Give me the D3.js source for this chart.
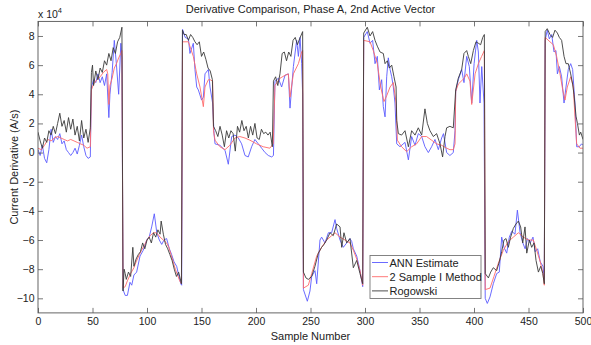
<!DOCTYPE html>
<html><head><meta charset="utf-8">
<script src="https://cdn.jsdelivr.net/npm/d3@7/dist/d3.min.js"></script>
<style>body{margin:0;background:#fff}svg{display:block}text{font-family:"Liberation Sans",Arial,sans-serif;fill:#222}</style>
</head><body><svg id="c" width="591" height="345"></svg>
<script>
// values in units of 10^4 A/s, x = sample number
const title = "Derivative Comparison, Phase A, 2nd Active Vector";
const xLabel = "Sample Number";
const yLabel = "Current Derivative (A/s)";
const xTicks = [0,50,100,150,200,250,300,350,400,450,500];
const yTicks = [-10,-8,-6,-4,-2,0,2,4,6,8];
const seriesNames = ["ANN Estimate","2 Sample I Method","Rogowski"];

const annEstimate = [
[0,0.2],[2,-0.2],[4,0.5],[6,-0.4],[8,-0.7],[10,0.2],[12,1.6],[14,0.7],[16,1.1],[18,0.9],[20,1.3],[22,0.6],[24,0.8],[26,0.2],[28,0.0],[30,-0.2],[32,0.0],[34,0.3],[36,-0.1],[38,0.5],[40,1.2],[42,0.4],[44,-0.2],[46,-0.4],[48,-0.3],
[49,4.5],[51,5.0],[53,4.8],[55,5.4],[57,4.8],[59,5.2],[61,4.6],[63,5.4],[65,2.4],[66,4.0],[68,5.5],[70,7.7],[72,6.0],[74,4.0],[76,7.5],[77,6.5],
[78,-9.4],[80,-9.8],[82,-9.8],[84.4,-8.9],[86,-9.1],[88,-8.4],[90.5,-8.2],[93.6,-7.1],[96.6,-6.7],[99.7,-6.0],[102,-5.8],[104.3,-5.1],[106.7,-4.2],[109,-5.5],[111.3,-6.0],[113.5,-6.3],[115.6,-6.0],[118,-5.9],[120.5,-6.6],[122.6,-7.0],[124.8,-7.5],[127.2,-7.8],[129.4,-8.5],[131,-9.0],[131.8,-9.1],
[132.6,8.45],[135,7.9],[138,7.8],[139.4,6.8],[142.5,7.5],[144,5.7],[145.6,4.5],[147.1,4.3],[150.1,3.6],[151.7,3.8],[153.2,5.4],[156.3,5.7],[157.8,4.5],[160.2,3.4],[161.5,1.3],
[162.4,0.6],[166.9,0.5],[171.6,0.15],[174.6,-0.8],[177.7,1.1],[180.7,1.2],[183.8,1.0],[186.8,0.6],[189.9,-0.2],[192.9,-0.3],[196,0.4],[199,0.9],[202.1,0.6],[205.2,0.3],[208.3,0.0],[211.3,-0.2],[214.4,-0.3],[216,-0.2],
[217.4,4.9],[220.5,5.1],[223.5,4.5],[226.6,5.3],[229.7,5.4],[231.2,3.05],[234.3,5.9],[237.3,7.7],[238.9,6.6],[240.4,7.9],[241.9,6.1],[242.8,4.0],
[243.5,-9.4],[247.1,-10.2],[249.5,-9.5],[251.1,-8.5],[254.1,-8.1],[255.7,-9.0],[258.7,-6.0],[260.2,-5.8],[263.3,-6.2],[266.4,-5.5],[269.4,-5.5],[272.5,-4.6],[274,-5.2],[277.1,-6.0],[280.1,-6.5],[283.2,-6.2],[286.2,-5.9],[287.8,-6.1],[289.3,-6.6],[292.4,-7.1],[295.4,-8.1],[297.9,-9.2],
[298.8,7.9],[302.1,8.3],[304.6,7.5],[307,7.7],[309.2,6.1],[311.3,6.6],[313.2,4.3],[315.3,5.0],[316.8,3.15],[318.4,2.45],[319.9,5.2],[321.4,6.5],[323,5.7],[324.5,5.2],[326,4.5],[327.5,3.4],[329.1,0.6],
[332.1,0.4],[336.7,0.7],[339.8,-0.5],[342.8,1.1],[345.9,0.5],[348.9,1.3],[352,1.1],[355,0.4],[358.1,0.0],[361.1,0.4],[364.2,0.9],[367.3,0.2],[370.3,1.0],[372,1.3],[374.9,0.0],[377.9,-0.2],[381,0.0],[382.6,1.5],
[383.2,4.2],[385.6,5.0],[388.7,5.7],[390.8,4.8],[393.3,6.6],[395.7,5.9],[397.9,3.4],[400.1,6.1],[402.5,7.7],[404,6.9],[405.5,3.4],[407.1,5.9],[409.2,3.4],
[410.3,-10.0],[412.2,-10.35],[414.7,-9.9],[417.7,-9.0],[420.8,-8.3],[423.2,-8.2],[425.4,-5.8],[427.5,-6.5],[430,-6.9],[432.4,-5.8],[434.6,-5.4],[437.6,-5.6],[439.8,-3.95],[442.3,-5.5],[444.8,-6.2],[446.9,-6.6],[449.1,-5.9],[451.6,-6.2],[454.1,-5.8],[456.2,-6.8],[458.4,-6.6],[460.8,-7.5],[463.3,-7.8],[464.5,-8.7],
[465.3,7.7],[467.2,8.4],[469.1,7.8],[471.3,8.1],[473.4,6.9],[475.2,7.0],[476.5,5.4],[478.3,5.9],[480.4,5.2],[482.6,3.4],[484.4,4.5],[486.5,5.7],[488.7,6.1],[490.5,5.7],[492.6,3.4],[494.2,0.4],[496.6,0.4],[498.7,0.6],[500,0.5]
];

const twoSampleI = [
[0,0.3],[3,0.2],[6,0.5],[9,0.9],[12,0.8],[15,1.0],[18,1.1],[21,1.0],[24,0.9],[27,0.8],[30,0.9],[33,0.8],[36,0.7],[39,0.6],[42,0.5],[45,0.3],[48,0.4],
[49,4.3],[51,4.7],[54,5.0],[57,5.2],[60,5.5],[63,5.7],[64,5.4],[65,3.3],[66,4.6],[68,5.1],[70,5.8],[72,6.1],[74,6.5],[76,6.8],[77,7.0],
[78,-9.3],[80,-9.2],[82,-8.8],[85,-8.3],[88,-7.9],[90,-7.5],[93,-7.0],[95,-6.7],[98,-6.3],[100,-6.0],[103,-5.7],[106,-5.5],[108,-5.5],[110,-5.6],[112,-5.8],[115,-6.0],[118,-6.2],[120,-6.5],[122,-7.0],[124,-7.5],[126,-8.0],[128,-8.4],[130,-8.8],[131.6,-9.0],
[132.6,7.6],[138,7.6],[142.5,6.6],[145.6,5.4],[148.6,4.5],[151.7,3.15],[153.2,4.5],[156.3,5.0],[158,5.0],[160.2,4.9],[161,1.5],[162.4,0.85],[166.9,0.4],[171.6,0.2],[176,0.5],[180.7,1.0],[185.2,1.1],[189.9,1.0],[194.4,0.85],[200.5,0.6],[206.6,0.4],[212.7,0.3],[215.8,0.6],
[217.4,4.6],[222,5.1],[226.6,5.3],[229.7,5.4],[231.2,3.8],[234.3,5.4],[238.9,6.1],[241.9,6.9],[242.8,7.0],
[243.5,-9.3],[248,-9.1],[251.1,-8.3],[255.7,-7.1],[260.2,-6.5],[264.8,-6.0],[269.4,-5.7],[272.5,-5.5],[277.1,-5.8],[281.7,-6.0],[286.2,-6.2],[289.3,-6.7],[292.4,-7.3],[295.4,-8.1],[297.9,-9.1],
[298.8,7.7],[304.6,7.6],[307.6,7.0],[311.3,6.1],[314.4,4.5],[317.4,3.5],[319.9,3.9],[323,4.5],[326,4.8],[328.5,3.4],[329.7,0.85],[333.6,0.4],[338.2,0.06],[342.8,0.4],[347.4,0.6],[352,1.1],[356.5,1.1],[361.1,0.85],[365.7,0.6],[370.3,0.5],[374.9,0.3],[377.9,0.2],[381,0.2],[382.6,0.6],
[383.2,4.2],[385.6,4.7],[391,5.1],[393.3,5.4],[396.3,4.9],[397.9,3.3],[401,5.4],[404,6.1],[407,6.6],[409.5,7.0],
[410.3,-9.4],[414.7,-9.3],[418.3,-8.5],[422.3,-7.6],[426.9,-6.7],[431.5,-6.1],[436.1,-5.8],[440.7,-5.5],[445.3,-5.8],[449.9,-6.0],[454.4,-6.0],[457.5,-6.7],[460.8,-7.5],[463.3,-8.3],[464.5,-9.1],
[465.3,7.9],[469.7,7.6],[472.8,7.4],[475.8,6.6],[478.9,5.4],[481.4,4.3],[483.5,3.6],[485.6,4.5],[488.7,5.2],[491.1,4.5],[492.6,2.5],[494.2,0.6],[497.2,0.3],[500,0.3]
];

const rogowski = [
[0,1.4],[2,0.8],[4,0.3],[6,1.0],[8,0.7],[10,1.5],[12,1.2],[14,1.8],[16,1.3],[18,2.0],[20,2.7],[22,1.8],[24,2.2],[26,1.4],[28,2.4],[30,1.6],[32,2.3],[34,1.2],[36,1.8],[38,0.8],[40,2.2],[42,1.0],[44,1.6],[46,0.7],[48,1.7],
[49,5.5],[50,6.0],[51,4.6],[53,5.6],[55,5.0],[57,5.8],[59,5.5],[61,6.3],[63,6.0],[65,6.8],[67,6.3],[69,7.2],[71,6.8],[73,7.6],[75,7.9],[77,8.6],
[78,-9.5],[79,-8.0],[80,-8.3],[81,-8.7],[83,-8.2],[85,-8.5],[87,-6.5],[88,-7.8],[90,-7.3],[92,-7.0],[94,-6.8],[96,-6.2],[98,-6.6],[100,-6.0],[102,-5.8],[104,-6.2],[106,-5.5],[108,-5.8],[110,-5.3],[112,-5.6],[113,-4.7],[115,-5.6],[117,-6.3],[119,-6.6],[121,-7.0],[123,-7.4],[125,-8.0],[127,-8.5],[129,-8.2],[131.6,-9.0],
[132.5,8.4],[134,8.1],[136,8.1],[138,7.7],[140,8.1],[142,7.9],[144,7.6],[146,7.4],[148,7.6],[150,6.6],[152,6.9],[154,6.4],[156,5.8],[158,5.6],[160,5.0],[161,1.8],[163,1.5],[165,1.1],[167,1.8],[169,1.2],[171,0.4],[173,1.5],[175,1.0],[177,1.5],[179,1.3],[181,0.1],[183,1.8],[185,1.4],[187,2.2],[189,1.5],[191,1.8],[193,1.0],[195,1.8],[197,1.2],[199,2.0],[201,1.0],[203,0.9],[205,1.6],[207,1.3],[209,1.4],[211,1.2],[213,1.4],[215,0.4],
[216,4.9],[218,5.2],[220,4.6],[222,5.4],[224,6.8],[226,6.9],[228,6.3],[230,6.9],[232,6.6],[234,7.7],[236,7.9],[238,7.4],[240,7.8],[242.8,8.3],
[243.5,-8.2],[245.8,-8.6],[248,-8.7],[251.1,-8.5],[254.1,-7.8],[257.2,-6.9],[260.2,-6.5],[262.4,-6.3],[264.8,-6.0],[267.9,-5.5],[270.9,-5.7],[274,-4.9],[277.1,-5.1],[278.6,-6.5],[280.7,-5.5],[283.2,-6.2],[286.2,-5.9],[289.3,-7.9],[292.4,-7.4],[295.4,-8.3],[297.9,-9.0],
[298.8,8.2],[302.1,8.6],[304.6,8.0],[307,8.3],[309.2,7.7],[311.3,7.3],[313.8,6.9],[316.8,6.8],[318.4,6.1],[320.5,6.3],[322.3,5.8],[324.5,6.0],[326.6,5.2],[328.5,4.5],[329.1,2.2],[330.6,1.3],[333.6,1.2],[336.7,1.5],[339.8,0.4],[342.8,1.5],[345.9,1.2],[348.9,1.7],[352,1.2],[355,3.0],[357.2,2.0],[359.6,1.5],[362.7,1.1],[365.7,1.3],[368.8,0.6],[371.2,-0.3],[373.4,1.1],[374.9,1.7],[377.9,1.8],[381,1.7],
[383.2,4.3],[385.6,5.1],[388.7,5.7],[390.8,6.8],[393.3,7.0],[394.8,6.6],[397,6.1],[399.4,7.0],[401.8,7.6],[404,7.5],[406.1,7.4],[408,7.9],[409.5,8.1],
[410.3,-8.3],[413.2,-8.6],[415.3,-8.2],[417.7,-7.9],[420.8,-8.1],[423.2,-7.5],[425.4,-6.8],[427.5,-6.0],[429.4,-5.9],[431.5,-6.5],[433.6,-5.8],[436.1,-5.2],[438.5,-4.9],[440.7,-4.7],[442.8,-5.1],[444.7,-6.2],[446.8,-5.1],[448.4,-6.9],[450.8,-6.0],[452.9,-6.5],[455.1,-6.2],[456.9,-7.4],[459.1,-8.2],[461.2,-7.8],[463.1,-8.3],[464.5,-9.0],
[465.3,8.3],[467.2,8.5],[469.7,8.1],[472.1,7.9],[474.3,8.4],[476.5,8.2],[478.3,7.9],[480.4,7.7],[482.6,6.6],[484.4,6.1],[486.5,6.1],[488.7,5.4],[490.5,4.7],[491.7,4.0],[493.6,2.5],[494.9,2.0],[496.7,1.2],[497.9,1.4],[500,0.9]
];

const svg = d3.select("#c");
const L = 38, R = 583, T = 21.4, B = 312.9;
const x = d3.scaleLinear().domain([0,500]).range([L,R]);
const y = d3.scaleLinear().domain([-11,9]).range([B,T]);

svg.append("rect").attr("x",L).attr("y",T).attr("width",R-L).attr("height",B-T).attr("fill","#fff");

svg.append("clipPath").attr("id","clp").append("rect")
  .attr("x",L).attr("y",T).attr("width",R-L).attr("height",B-T);

const line = d3.line().x(d=>x(d[0])).y(d=>y(d[1]));
const g = svg.append("g").attr("clip-path","url(#clp)");
const styles = [
  {data:annEstimate, color:"#5a5aff", w:0.9},
  {data:twoSampleI, color:"#ff6a6a", w:0.9},
  {data:rogowski, color:"#3a3a3a", w:0.9}
];
styles.forEach(s=>{
  g.append("path").datum(s.data).attr("d",line).attr("fill","none")
   .attr("stroke",s.color).attr("stroke-width",s.w).attr("stroke-linejoin","round");
});

// axes (Matlab box style, inward ticks)
const axColor = "#555";
const tl = 5;
const xAxB = d3.axisBottom(x).tickValues(xTicks).tickSizeInner(-tl).tickSizeOuter(0).tickPadding(5);
const xAxT = d3.axisTop(x).tickValues(xTicks).tickSizeInner(-tl).tickSizeOuter(0).tickFormat("");
const yAxL = d3.axisLeft(y).tickValues(yTicks).tickSizeInner(-tl).tickSizeOuter(0).tickPadding(3.5);
const yAxR = d3.axisRight(y).tickValues(yTicks).tickSizeInner(-tl).tickSizeOuter(0).tickFormat("");
function style(sel){
  sel.select(".domain").remove();
  sel.selectAll("line").attr("stroke",axColor).attr("stroke-width",0.8);
  sel.selectAll("text").attr("font-size",10.5).attr("font-family","'Liberation Sans',Arial,sans-serif").attr("fill","#222");
}
svg.append("g").attr("transform",`translate(0,${B})`).call(xAxB).call(style);
svg.append("g").attr("transform",`translate(0,${T})`).call(xAxT).call(style);
svg.append("g").attr("transform",`translate(${L},0)`).call(yAxL).call(style);
svg.append("g").attr("transform",`translate(${R},0)`).call(yAxR).call(style);
svg.append("rect").attr("x",L).attr("y",T).attr("width",R-L).attr("height",B-T)
  .attr("fill","none").attr("stroke",axColor).attr("stroke-width",0.9);

// exponent label
const ex = svg.append("text").attr("x",L).attr("y",17.5).attr("font-size",10.5);
ex.append("tspan").text("x 10");
ex.append("tspan").attr("dy",-5).attr("font-size",7.5).text("4");

// title and axis labels
svg.append("text").attr("x",(L+R)/2).attr("y",12.5).attr("text-anchor","middle").attr("font-size",11).text(title);
svg.append("text").attr("x",(L+R)/2).attr("y",340).attr("text-anchor","middle").attr("font-size",11).text(xLabel);
svg.append("text").attr("transform",`translate(18,${(T+B)/2}) rotate(-90)`).attr("text-anchor","middle").attr("font-size",11).text(yLabel);

// legend
const lg = svg.append("g");
lg.append("rect").attr("x",370).attr("y",255.5).attr("width",111).attr("height",43)
  .attr("fill","#fff").attr("stroke","#777").attr("stroke-width",0.9);
seriesNames.forEach((n,i)=>{
  const yy = 262.5 + i*14.2;
  lg.append("line").attr("x1",372).attr("x2",388).attr("y1",yy).attr("y2",yy)
    .attr("stroke",styles[i].color).attr("stroke-width",0.9);
  lg.append("text").attr("x",389.5).attr("y",yy+4).attr("font-size",11).text(n);
});
</script></body></html>
